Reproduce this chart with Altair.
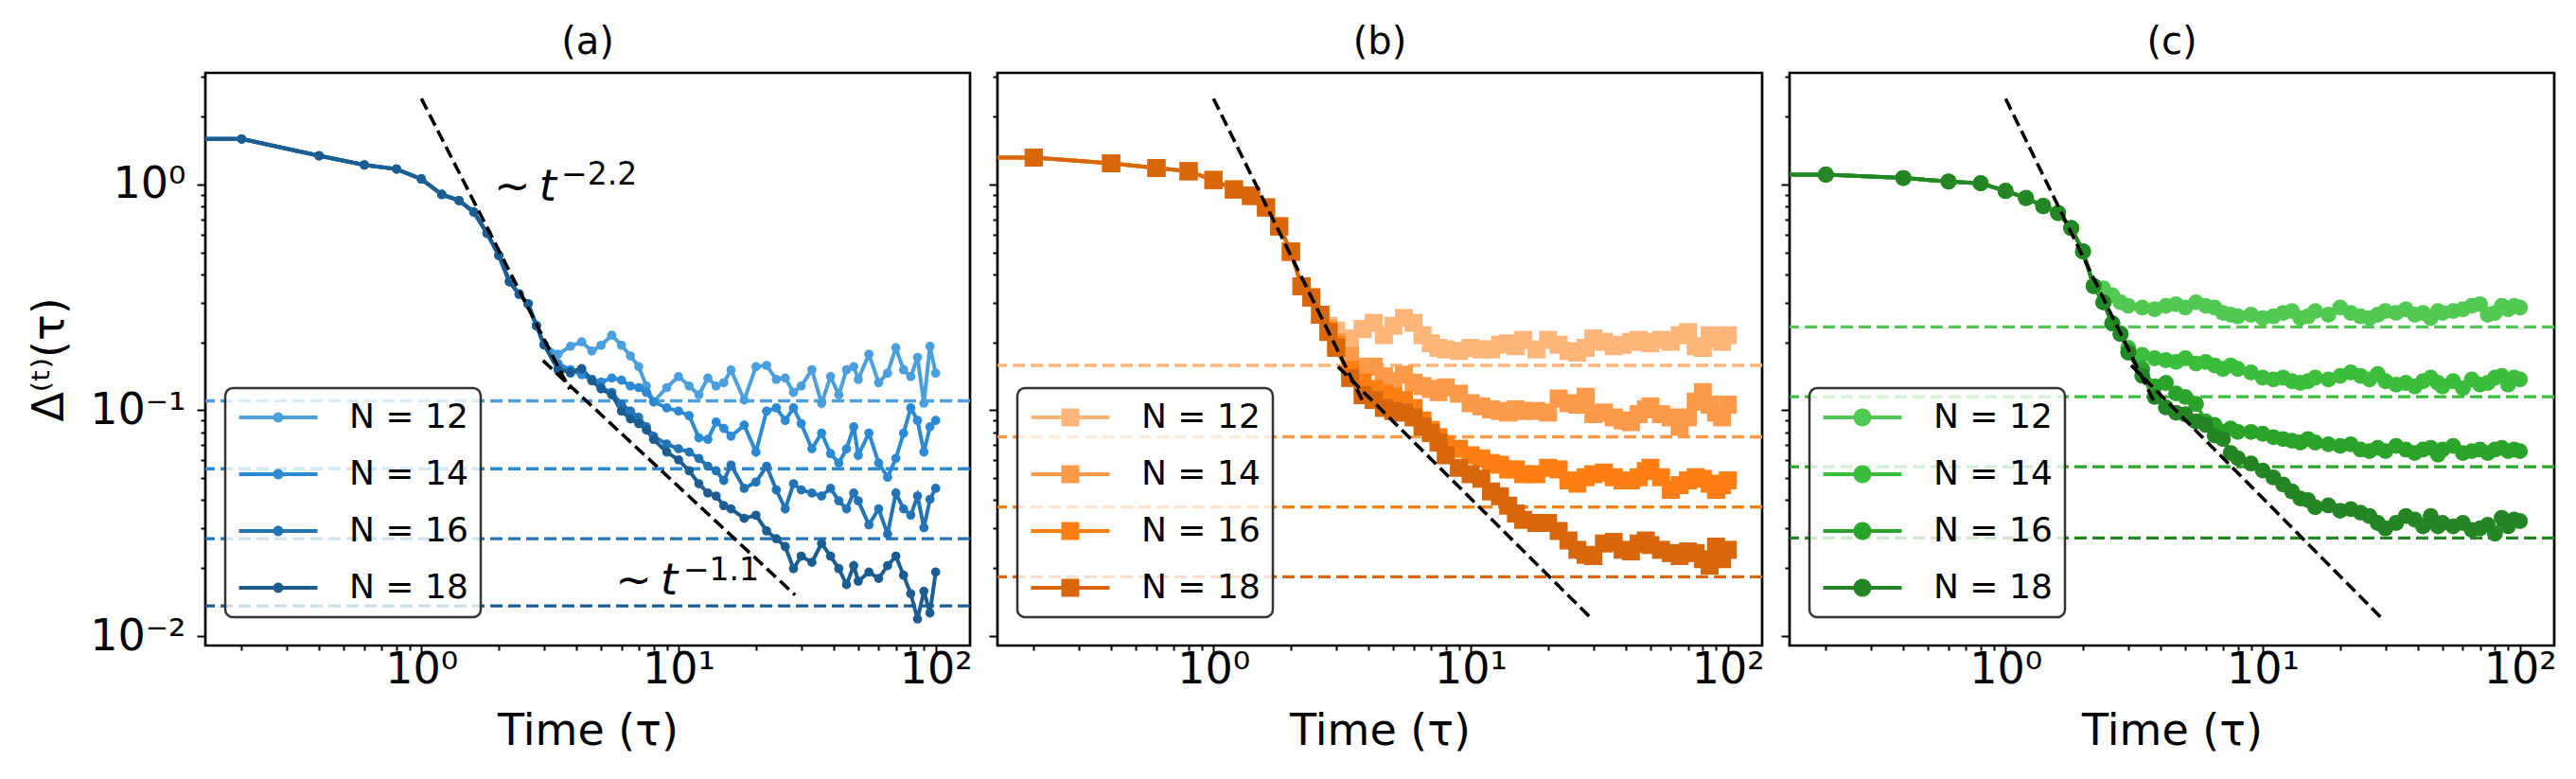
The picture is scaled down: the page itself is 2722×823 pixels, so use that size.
import altair as alt
import pandas as pd

# ---------------- data ----------------
# time grid (tau); 0.1 stands for the tau = 0 sample, which sits left of the log axis and is clipped
T = [0.1, 0.2, 0.4, 0.6, 0.8, 1.0, 1.2, 1.4, 1.6, 1.8, 2.0, 2.2, 2.4, 2.6, 2.8, 3.0,
     3.4, 3.8, 4.2, 4.6, 5.0, 5.5, 6.0, 6.5, 7.0, 7.5, 8, 9, 10, 11, 12, 13, 14, 15, 16,
     18, 20, 22, 24, 26, 28, 30, 33, 36, 39, 42, 45, 48, 50, 55, 60, 65, 70, 75, 80, 85, 90, 95, 100]

N_LABELS = ["N = 12", "N = 14", "N = 16", "N = 18"]

# panel (a)
A_EARLY = [1.59, 1.59, 1.34, 1.22, 1.17, 1.056, 0.903, 0.849, 0.754, 0.608, 0.485, 0.371, 0.327, 0.296, 0.237, 0.195]
A12 = A_EARLY + [0.177, 0.192, 0.201, 0.183, 0.194, 0.215, 0.194, 0.174, 0.156, 0.128, 0.109,
                 0.126, 0.141, 0.128, 0.117, 0.139, 0.128, 0.1325, 0.1507,
                 0.111, 0.156, 0.158, 0.137, 0.139, 0.120, 0.128,
                 0.151, 0.1075, 0.141, 0.117, 0.151, 0.156, 0.137,
                 0.177, 0.1325, 0.146, 0.189, 0.151, 0.141, 0.1715, 0.1075, 0.192, 0.146]
A14 = A_EARLY + [0.161, 0.151, 0.1437, 0.137, 0.1334, 0.139, 0.136, 0.128, 0.126, 0.120, 0.109,
                 0.1024, 0.0992, 0.0946, 0.0755, 0.0743, 0.0886, 0.0832, 0.0767,
                 0.0859, 0.0653, 0.0992, 0.1024, 0.0901, 0.1024, 0.0873,
                 0.0675, 0.0792, 0.0643, 0.0584, 0.0675, 0.0845, 0.0632,
                 0.0792, 0.0584, 0.0505, 0.0612, 0.0792, 0.1024, 0.0901, 0.0653, 0.0845, 0.0901]
A16 = A_EARLY + [0.153, 0.146, 0.151, 0.137, 0.126, 0.120, 0.1065, 0.0992, 0.093, 0.0845, 0.0767,
                 0.0708, 0.0675, 0.0653, 0.0612, 0.0565, 0.0539, 0.0489, 0.0572,
                 0.0451, 0.0481, 0.0565, 0.0444, 0.0366, 0.0473, 0.0444,
                 0.0430, 0.0417, 0.0451, 0.0397, 0.0366, 0.0430, 0.0397,
                 0.0311, 0.0366, 0.0283, 0.0430, 0.0366, 0.0343, 0.0417, 0.0302, 0.0403, 0.0451]
A18 = A_EARLY + [0.151, 0.148, 0.153, 0.135, 0.1243, 0.117, 0.0992, 0.0916, 0.0873, 0.0818, 0.0743,
                 0.0653, 0.0603, 0.0539, 0.0473, 0.0430, 0.0417, 0.0378, 0.0366,
                 0.0332, 0.0343, 0.0292, 0.0270, 0.0249, 0.0199, 0.0226,
                 0.0212, 0.0257, 0.0226, 0.0199, 0.0169, 0.0205, 0.0175,
                 0.0192, 0.0180, 0.0205, 0.0226, 0.0186, 0.0154, 0.0119, 0.0158, 0.01265, 0.0192]
A_LEVELS = [0.110, 0.0551, 0.0270, 0.0136]

# panel (b)
B_EARLY = [1.315, 1.315, 1.241, 1.183, 1.145, 1.046, 0.950, 0.891, 0.791, 0.652, 0.504, 0.354, 0.316, 0.265]
B12 = B_EARLY + [0.2366, 0.2255,
                 0.208, 0.229, 0.244, 0.215, 0.2366, 0.2564, 0.244, 0.215, 0.198, 0.189, 0.186,
                 0.183, 0.189, 0.186, 0.186, 0.195, 0.198, 0.192, 0.205,
                 0.186, 0.205, 0.195, 0.183, 0.180, 0.189, 0.208,
                 0.201, 0.192, 0.195, 0.201, 0.205, 0.201, 0.198,
                 0.205, 0.201, 0.215, 0.222, 0.192, 0.189, 0.215, 0.208, 0.201, 0.215]
B14 = B_EARLY + [0.230, 0.200,
                 0.174, 0.156, 0.156, 0.1414, 0.1347, 0.1437, 0.1325, 0.128, 0.1243, 0.1203, 0.1263,
                 0.1184, 0.1075, 0.1041, 0.1009, 0.0993, 0.0977, 0.1009, 0.0993,
                 0.0993, 0.0977, 0.1128, 0.1075, 0.1059, 0.1147, 0.0961,
                 0.0977, 0.093, 0.0901, 0.0886, 0.0961, 0.1009, 0.1041,
                 0.0961, 0.093, 0.0845, 0.093, 0.1093, 0.1203, 0.1059, 0.0977, 0.093, 0.1059]
B16 = B_EARLY + [0.225, 0.195,
                 0.151, 0.1325, 0.1243, 0.1184, 0.1148, 0.111, 0.1024, 0.0901, 0.0818, 0.076, 0.0708,
                 0.0675, 0.0632, 0.0612, 0.0584, 0.0574, 0.0547, 0.0547, 0.0521,
                 0.0521, 0.0556, 0.0547, 0.0489, 0.0473, 0.0505, 0.0521,
                 0.053, 0.0505, 0.0489, 0.0489, 0.0505, 0.0538, 0.0556,
                 0.0505, 0.0444, 0.0466, 0.0489, 0.0505, 0.0497, 0.0473, 0.0444, 0.0466, 0.0489]
B18 = B_EARLY + [0.222, 0.189,
                 0.139, 0.1166, 0.111, 0.1024, 0.0992, 0.0976, 0.093, 0.0845, 0.0792, 0.0719, 0.0632,
                 0.0556, 0.0521, 0.0497, 0.0437, 0.0416, 0.0378, 0.0349, 0.0327,
                 0.0317, 0.0317, 0.0292, 0.0265, 0.0241, 0.0229, 0.0226,
                 0.0257, 0.0261, 0.0241, 0.0237, 0.0257, 0.0265, 0.0253,
                 0.0241, 0.0233, 0.0226, 0.0237, 0.0233, 0.0219, 0.0205, 0.0249, 0.0219, 0.0241]
B_LEVELS = [0.158, 0.0763, 0.0373, 0.0183]

# panel (c)
C_EARLY = [1.106, 1.106, 1.068, 1.030, 1.012, 0.936, 0.871, 0.802, 0.747, 0.641, 0.505, 0.355]
C12 = C_EARLY + [0.3467, 0.323, 0.3006, 0.290,
                 0.285, 0.280, 0.290, 0.295, 0.285, 0.3006, 0.290, 0.285, 0.270, 0.265, 0.2606,
                 0.265, 0.256, 0.2606, 0.270, 0.275, 0.256, 0.2606, 0.275,
                 0.265, 0.285, 0.270, 0.2606, 0.256, 0.265, 0.275,
                 0.270, 0.280, 0.265, 0.270, 0.256, 0.275, 0.270,
                 0.275, 0.280, 0.290, 0.295, 0.265, 0.270, 0.290, 0.280, 0.290, 0.285]
C14 = C_EARLY + [0.3006, 0.2426, 0.218, 0.189,
                 0.176, 0.170, 0.1667, 0.1637, 0.170, 0.161, 0.1637, 0.158, 0.1525, 0.158, 0.1525,
                 0.147, 0.1394, 0.137, 0.1394, 0.1345, 0.1322, 0.1345, 0.1394,
                 0.137, 0.142, 0.147, 0.142, 0.137, 0.1446, 0.1345,
                 0.1298, 0.1322, 0.1275, 0.1345, 0.1394, 0.1322, 0.1275,
                 0.1345, 0.1252, 0.137, 0.1298, 0.1322, 0.1394, 0.142, 0.1298, 0.1394, 0.137]
C16 = C_EARLY + [0.3006, 0.2426, 0.218, 0.182,
                 0.1525, 0.1275, 0.1322, 0.1188, 0.1146, 0.1067, 0.0892, 0.0861, 0.0802, 0.0831, 0.0802,
                 0.0802, 0.0787, 0.076, 0.0746, 0.0733, 0.072, 0.0746, 0.072,
                 0.0707, 0.0695, 0.0707, 0.067, 0.0659, 0.0682, 0.0659,
                 0.0695, 0.067, 0.0647, 0.067, 0.0682, 0.0636, 0.067,
                 0.0695, 0.0647, 0.0659, 0.067, 0.0647, 0.067, 0.0682, 0.0659, 0.067, 0.0659]
C18 = C_EARLY + [0.3006, 0.2426, 0.218, 0.180,
                 0.142, 0.1146, 0.103, 0.0975, 0.0959, 0.0892, 0.0861, 0.0773, 0.0746, 0.0647, 0.0613,
                 0.0581, 0.0541, 0.0504, 0.0469, 0.0437, 0.0407, 0.040, 0.0372,
                 0.0379, 0.0359, 0.0365, 0.0352, 0.034, 0.0317, 0.030,
                 0.0317, 0.034, 0.0328, 0.0306, 0.034, 0.0306, 0.0317,
                 0.0306, 0.0317, 0.0295, 0.030, 0.0311, 0.0284, 0.0334, 0.0306, 0.0328, 0.0323]
C_LEVELS = [0.234, 0.1148, 0.0562, 0.0272]

# guide lines (power laws), endpoints
A_STEEP_T, A_STEEP_D = [1.0, 3.77], [2.4, 0.124]
A_SLOW_T, A_SLOW_D = [2.97, 28.4], [0.166, 0.0152]
B_STEEP_T, B_STEEP_D = [1.0, 3.83], [2.4, 0.108]
B_SLOW_T, B_SLOW_D = [3.05, 29.2], [0.156, 0.0121]
C_STEEP_T, C_STEEP_D = [1.0, 3.84], [2.4, 0.105]
C_SLOW_T, C_SLOW_D = [3.08, 28.8], [0.158, 0.0121]

# annotations in panel (a)
ANN_MAIN_T = [1.915, 5.68]
ANN_MAIN_D = [0.846, 0.01535]
ANN_MAIN_TXT = ["∼\u2009t", "∼\u2009t"]
ANN_SUP_T = [3.5, 10.43]
ANN_SUP_D = [1.098, 0.01954]
ANN_SUP_TXT = ["−2.2", "−1.1"]

A_COLORS = ["#4a9fdc", "#2b8ad3", "#2274b5", "#1b5d91"]
B_COLORS = ["#fdb57a", "#fd9a4a", "#fd7f12", "#d8660a"]
C_COLORS = ["#52c952", "#3cbd3c", "#2ca42c", "#238523"]

X_MAJOR = [1, 10, 100]
X_MINOR = [0.2, 0.3, 0.4, 0.5, 0.6, 0.7, 0.8, 0.9, 2, 3, 4, 5, 6, 7, 8, 9,
           20, 30, 40, 50, 60, 70, 80, 90]
Y_MAJOR = [0.01, 0.1, 1]
Y_MINOR = [0.02, 0.03, 0.04, 0.05, 0.06, 0.07, 0.08, 0.09,
           0.2, 0.3, 0.4, 0.5, 0.6, 0.7, 0.8, 0.9, 2, 3]

X_DOMAIN = [0.1445, 136.0]
Y_DOMAIN = [0.00908, 3.12]

for s in (A12, A14, A16, A18, B12, B14, B16, B18, C12, C14, C16, C18):
    assert len(s) == len(T), len(s)

# ---------------- chart ----------------
FONT = "DejaVu Sans"
LABEL_EXPR = ("datum.value == 1 ? '10⁰' : datum.value == 10 ? '10¹' : datum.value == 100 ? '10²' : "
              "datum.value == 0.1 ? '10⁻¹' : datum.value == 0.01 ? '10⁻²' : ''")
MAJOR_TEST = "indexof([0.01, 0.1, 1, 10, 100], datum.value) >= 0"
TICK_SIZE = {"condition": {"test": MAJOR_TEST, "value": 9}, "value": 5}
LABEL_SIZE = {"condition": {"test": MAJOR_TEST, "value": 46}, "value": 1}

x_scale = alt.Scale(type="log", domain=X_DOMAIN, nice=False)
y_scale = alt.Scale(type="log", domain=Y_DOMAIN, nice=False)

x_axis = alt.Axis(values=X_MAJOR + X_MINOR, labelExpr=LABEL_EXPR, tickSize=TICK_SIZE,
                  labelFontSize=LABEL_SIZE, title="Time (τ)", labelPadding=-6, titlePadding=20)


def y_axis(show):
    if show:
        return alt.Axis(values=Y_MAJOR + Y_MINOR, labelExpr=LABEL_EXPR, tickSize=TICK_SIZE,
                        labelFontSize=LABEL_SIZE, title="Δ⁽ᵗ⁾(τ)", labelPadding=12, titlePadding=18)
    return alt.Axis(values=Y_MAJOR + Y_MINOR, labels=False, tickSize=TICK_SIZE, title=None)


# legend glyph: a short line with the marker on it (unit coords)
LINE_PATH = "M-1,-0.12L4.03,-0.12L4.03,0.12L-1,0.12Z"


def circle_sym(r):
    c = 1.515
    return LINE_PATH + f"M{c - r},0A{r},{r} 0 1,1 {c + r},0A{r},{r} 0 1,1 {c - r},0Z"


def square_sym(s):
    c = 1.515
    return LINE_PATH + f"M{c - s},{-s}L{c + s},{-s}L{c + s},{s}L{c - s},{s}Z"


def long_df(series):
    rows = []
    for lab, vals in zip(N_LABELS, series):
        for t, d in zip(T, vals):
            rows.append({"t": t, "d": d, "N": lab})
    return pd.DataFrame(rows)


def panel(title, series, colors, levels, shape, size, steep, slow, sym, show_y, annotate=False):
    df = long_df(series)
    X = alt.X("t:Q", scale=x_scale, axis=x_axis)
    Y = alt.Y("d:Q", scale=y_scale, axis=y_axis(show_y))
    layers = []
    for lev, col in zip(levels, colors):
        layers.append(alt.Chart(pd.DataFrame({"d": [lev]})).mark_rule(
            color=col, strokeDash=[13, 6], strokeWidth=3.4).encode(y=Y))
    for lab, col in zip(N_LABELS, colors):
        layers.append(alt.Chart(df).transform_filter(alt.datum.N == lab).mark_line(
            color=col, strokeWidth=4.0, clip=True).encode(x=X, y=Y))
    legend = alt.Legend(orient="none", legendX=21, legendY=333, title=None, symbolType=sym,
                        symbolSize=1089, symbolStrokeWidth=0, labelOffset=82)
    layers.append(alt.Chart(df).mark_point(shape=shape, filled=True, size=size, opacity=1, clip=True).encode(
        x=X, y=Y, fill=alt.Fill("N:N", scale=alt.Scale(domain=N_LABELS, range=colors), legend=legend)))
    guide = pd.DataFrame({"t": steep[0] + slow[0], "d": steep[1] + slow[1],
                          "seg": ["steep", "steep", "slow", "slow"]})
    layers.append(alt.Chart(guide).mark_line(color="black", strokeDash=[13, 6], strokeWidth=3.6,
                                             clip=True).encode(x=X, y=Y, detail="seg:N"))
    if annotate:
        main = pd.DataFrame({"t": ANN_MAIN_T, "d": ANN_MAIN_D, "txt": ANN_MAIN_TXT})
        sup = pd.DataFrame({"t": ANN_SUP_T, "d": ANN_SUP_D, "txt": ANN_SUP_TXT})
        layers.append(alt.Chart(main).mark_text(font=FONT, fontSize=46, fontStyle="italic", align="left",
                                                baseline="alphabetic", color="black").encode(
            x=X, y=Y, text="txt:N"))
        layers.append(alt.Chart(sup).mark_text(font=FONT, fontSize=33, align="left",
                                               baseline="middle", color="black").encode(
            x=X, y=Y, text="txt:N"))
    return alt.layer(*layers).properties(
        width=808, height=605,
        title=alt.TitleParams(title, fontSize=40, font=FONT, fontWeight="normal", color="black",
                              baseline="alphabetic", offset=-20))


pa = panel("(a)", [A12, A14, A16, A18], A_COLORS, A_LEVELS, "circle", 95,
           (A_STEEP_T, A_STEEP_D), (A_SLOW_T, A_SLOW_D), circle_sym(0.33), True, annotate=True)
pb = panel("(b)", [B12, B14, B16, B18], B_COLORS, B_LEVELS, "square", 361,
           (B_STEEP_T, B_STEEP_D), (B_SLOW_T, B_SLOW_D), square_sym(0.576), False)
pc = panel("(c)", [C12, C14, C16, C18], C_COLORS, C_LEVELS, "circle", 283,
           (C_STEEP_T, C_STEEP_D), (C_SLOW_T, C_SLOW_D), circle_sym(0.576), False)

chart = alt.hconcat(pa, pb, pc, spacing=29, bounds="flush").resolve_scale(
    fill="independent"
).properties(
    padding={"left": 20, "top": 15, "right": 5, "bottom": 5}
).configure(font=FONT).configure_view(
    stroke="black", strokeWidth=2.7
).configure_axis(
    labelFont=FONT, labelColor="black", titleFont=FONT, titleFontSize=46,
    titleFontWeight="normal", titleColor="black", tickColor="black", tickWidth=2,
    domain=False, grid=False, labelOverlap=False, labelFlush=False
).configure_legend(
    labelFont=FONT, labelFontSize=36, labelColor="black", padding=13, rowPadding=24,
    fillColor="rgba(255,255,255,0.8)", strokeColor="#333333", strokeWidth=2.5, cornerRadius=8
)

chart.save("out.html", embed_options={"renderer": "svg", "actions": False})
